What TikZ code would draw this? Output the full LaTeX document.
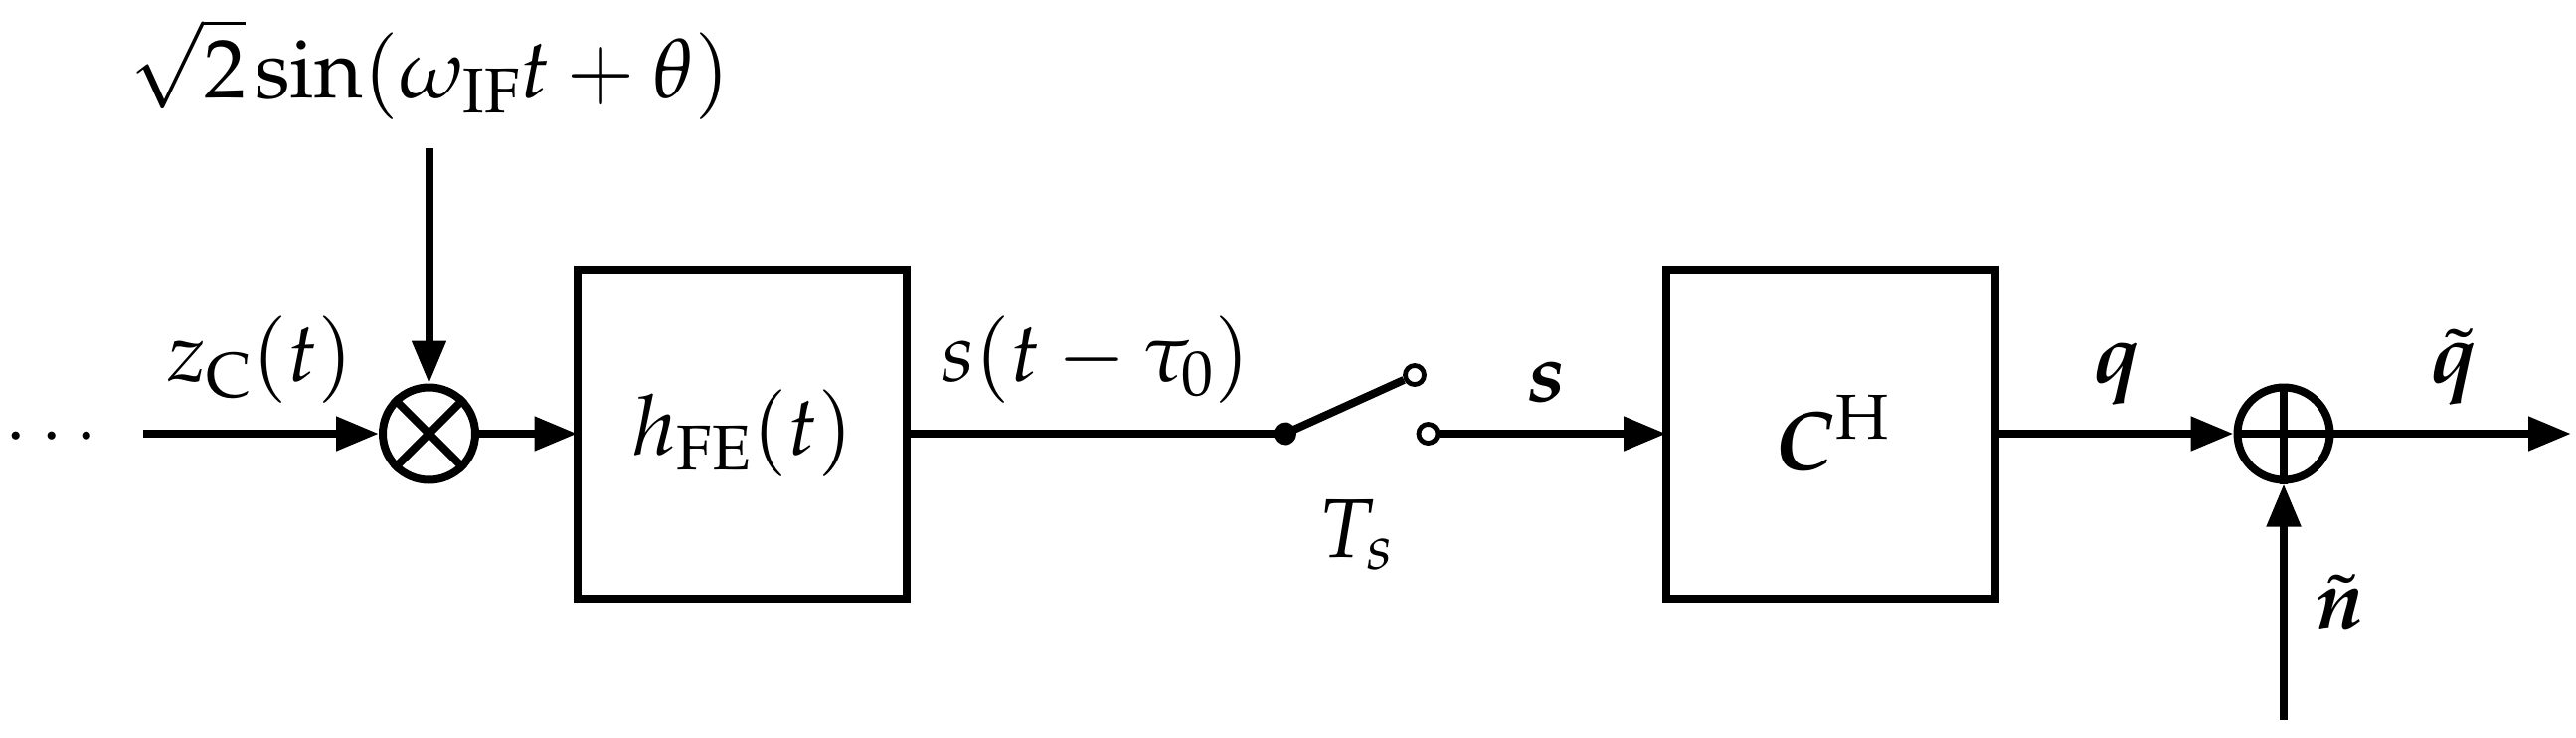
\documentclass[tikz,border=0pt]{standalone}
\usepackage{amsmath}
\usepackage{mathpazo}
\usepackage{bm}
\usetikzlibrary{arrows.meta}
\tikzset{
  wire/.style={line width=4pt,-{Triangle[length=21.5pt,width=16.5pt]}},
  plainwire/.style={line width=4pt},
  blockbox/.style={draw,line width=4pt,minimum width=165.5pt,minimum height=165.5pt,inner sep=0pt,outer sep=0pt,anchor=center},
  junction/.style={draw,circle,line width=4pt,minimum size=46.5pt,inner sep=0pt,outer sep=2pt},
  contact/.style={draw,circle,line width=2.4pt,minimum size=9.5pt,inner sep=0pt,outer sep=1.2pt,fill=white},
  contactdot/.style={circle,fill=black,minimum size=11.5pt,inner sep=0pt,outer sep=0pt},
  lbl/.style={anchor=base west,inner sep=0pt,outer sep=0pt,font=\fontsize{42}{50}\selectfont},
}
\begin{document}
\begin{tikzpicture}[x=0.5pt,y=-0.5pt]
\useasboundingbox (0,0) rectangle (2591,741);
% free ends
\coordinate (inL) at (144,436);
\coordinate (loTop) at (431.5,149);
\coordinate (noiseEnd) at (2297,724);
\coordinate (outEnd) at (2586,436);
% blocks
\node[blockbox] (hfe) at (746,436) {};
\node[blockbox] (chh) at (1841.5,436) {};
\node[junction] (mix) at (431.5,436) {};
\node[junction] (sum) at (2297,436) {};
\node[contactdot] (swA) at (1292.5,436) {};
\node[contact] (swB) at (1423,377) {};
\node[contact] (swC) at (1436.5,436) {};
% symbols inside junctions
\draw[line width=4pt] (mix.north west) -- (mix.south east) (mix.north east) -- (mix.south west);
\draw[line width=4pt] (sum.north) -- (sum.south) (sum.west) -- (sum.east);
% connectors
\draw[wire] (inL) -- (mix.west);
\draw[wire] (loTop) -- (mix.north);
\draw[wire] (mix.east) -- (hfe.west);
\draw[plainwire] (hfe.east) -- (swA.center);
\draw[plainwire] (swA.center) -- (swB);
\draw[wire] (swC) -- (chh.west);
\draw[wire] (chh.east) -- (sum.west);
\draw[wire] (noiseEnd) -- (sum.south);
\draw[wire] (sum.east) -- (outEnd);
% labels
\node[lbl,anchor=base,font=\fontsize{37}{44}\selectfont] (dots) at (58,457) {$\cdots$};
\node[lbl] (lo) at (130,98) {$\sqrt{2}\mkern-1mu\sin(\omega_{\mathrm{IF}}t+\theta)$};
\node[lbl] (zc) at (168,383) {$z_{\mathrm{C}}(t)$};
\node[lbl] (hlabel) at (636,457) {$h_{\mathrm{FE}}(t)$};
\node[lbl] (stau) at (946,383) {$s(t-\tau_0)$};
\node[lbl] (ts) at (1326,560) {$T_s$};
\node[lbl] (sb) at (1535,403) {$\bm{s}$};
\node[lbl] (clabel) at (1785,472) {$\bm{C}^{\mathrm{H}}$};
\node[lbl] (qb) at (2105,384) {$\bm{q}$};
\node[lbl] (qt) at (2444,384) {$\tilde{\bm{q}}$};
\node[lbl] (nt) at (2329,631) {$\tilde{\bm{n}}$};
\end{tikzpicture}
\end{document}
